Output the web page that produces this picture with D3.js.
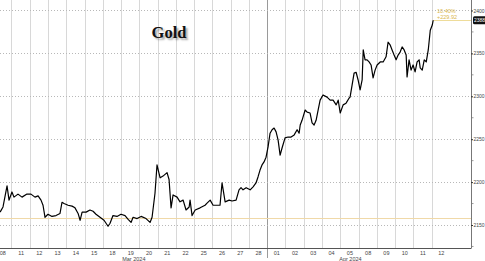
<!DOCTYPE html>
<html>
<head>
<meta charset="utf-8">
<script src="https://cdn.jsdelivr.net/npm/d3@7"></script>
<style>
  html, body { margin: 0; padding: 0; background: #fff; }
  svg { display: block; }
  text { font-family: "Liberation Sans", Arial, sans-serif; }
</style>
</head>
<body>
<svg id="chart" width="485" height="261"></svg>
<script>
// trading days shown on the x axis (Mar 8 -> Apr 12)
var dayLabels = ["08", "11", "12", "13", "14", "15", "18", "19", "20", "21", "22", "25", "26", "27", "28",
                 "01", "02", "03", "04", "05", "08", "09", "10", "11", "12"];
var monthLabels = ["Mar 2024", "Apr 2024"];
var monthFirstDay = [0, 15]; // index in dayLabels

// gold spot, time as fractional trading-day index
var priceTimes = [0.35, 0.51, 0.73, 0.84, 1.00, 1.11, 1.33, 1.55, 1.82, 2.04, 2.26, 2.43, 2.59, 2.70, 2.81, 2.97,
  3.19, 3.41, 3.63, 3.74, 3.85, 4.07, 4.29, 4.45, 4.62, 4.73, 4.84, 5.06, 5.27, 5.44, 5.60, 5.82, 6.04, 6.26,
  6.37, 6.53, 6.75, 6.97, 7.19, 7.36, 7.52, 7.63, 7.85, 8.07, 8.34, 8.56, 8.67, 8.83, 8.94, 9.11, 9.27, 9.49,
  9.60, 9.71, 9.82, 10.04, 10.20, 10.37, 10.53, 10.70, 10.75, 10.86, 11.03, 11.30, 11.57, 11.68, 11.85, 12.01,
  12.23, 12.39, 12.50, 12.67, 12.89, 13.05, 13.27, 13.43, 13.54, 13.65, 13.82, 14.04, 14.20, 14.36, 14.47,
  14.58, 14.69, 14.80, 14.91, 15.02, 15.13, 15.24, 15.35, 15.46, 15.57, 15.68, 15.79, 15.95, 16.12, 16.28,
  16.45, 16.61, 16.72, 16.78, 16.88, 17.05, 17.16, 17.32, 17.43, 17.54, 17.65, 17.76, 17.87, 18.03, 18.25,
  18.42, 18.58, 18.75, 18.86, 18.97, 19.13, 19.29, 19.46, 19.51, 19.62, 19.73, 19.84, 19.95, 20.06, 20.17,
  20.23, 20.33, 20.44, 20.55, 20.66, 20.77, 20.88, 20.99, 21.16, 21.32, 21.48, 21.59, 21.70, 21.81, 21.92,
  22.03, 22.14, 22.25, 22.36, 22.47, 22.58, 22.63, 22.74, 22.85, 22.96, 23.07, 23.18, 23.29, 23.35, 23.46,
  23.57, 23.68, 23.79, 23.90, 24.01, 24.06];
var priceValues = [2165, 2171, 2195.5, 2179, 2188.5, 2182.5, 2186, 2182.5, 2186, 2186, 2182.5, 2184, 2179, 2173, 2159, 2162.5,
  2160, 2161, 2163.5, 2176.5, 2175, 2173, 2172, 2170, 2163.5, 2155.5, 2165, 2165, 2167.5, 2166, 2162.5, 2159, 2155.5, 2148.5,
  2152, 2161, 2160, 2162.5, 2161, 2156.5, 2153, 2159, 2157.5, 2160, 2157.5, 2153, 2159, 2187, 2220, 2205, 2207, 2211,
  2203, 2170, 2185, 2182.5, 2177, 2179, 2167.5, 2171, 2179, 2161, 2167.5, 2170, 2173, 2175.5, 2179, 2173,
  2173, 2173, 2199, 2177, 2179, 2178, 2179, 2191, 2193.5, 2191, 2193.5, 2191, 2194.5, 2199, 2206,
  2214, 2220, 2223.5, 2229, 2241, 2257, 2261, 2263, 2258.5, 2249, 2231.5, 2240, 2251.5, 2252.5, 2252.5,
  2255, 2261, 2257, 2266.5, 2272, 2284, 2281.5, 2280.5, 2269, 2266.5, 2272, 2284, 2295.5, 2301.5, 2299,
  2295.5, 2295.5, 2290, 2295.5, 2280.5, 2290, 2292, 2298, 2299, 2313, 2327, 2328, 2319, 2307.5, 2319,
  2354, 2342.5, 2342.5, 2340, 2336.5, 2321.5, 2330.5, 2336.5, 2340, 2340, 2346, 2363, 2360, 2354, 2348,
  2342.5, 2348, 2351.5, 2357.5, 2354, 2348, 2322.5, 2342.5, 2330.5, 2336.5, 2328.5, 2340, 2342.5, 2333, 2330.5,
  2342.5, 2340, 2354, 2377, 2383, 2388.6];

var yTicks = [2150, 2200, 2250, 2300, 2350, 2400];
var yMinorTicks = [2125, 2175, 2225, 2275, 2325, 2375];
var basePrice = 2158.7;
var lastLabel = "2388.61";
var changePct = "10.40%";
var changeAbs = "+229.92";

var plotRight = 471, plotBottom = 248;
var gold = "#d9b64a";

var svg = d3.select("#chart");

var x = d3.scaleLinear().domain([0, 26.13]).range([-6.3, plotRight]);
var y = d3.scaleLinear().domain([2123.2, 2412.2]).range([plotBottom, 0]);

// vertical day separators
var dayBounds = d3.range(1, dayLabels.length);
svg.append("g").selectAll("line").data(dayBounds).join("line")
  .attr("x1", d => x(d)).attr("x2", d => x(d))
  .attr("y1", 0).attr("y2", d => monthFirstDay.indexOf(d) > 0 ? 258 : plotBottom)
  .attr("stroke", d => monthFirstDay.indexOf(d) > 0 ? "#9a9a9a" : "#d8d8d8")
  .attr("stroke-width", 1)
  .attr("shape-rendering", "crispEdges");

// horizontal dotted gridlines
svg.append("g").selectAll("line").data(yTicks).join("line")
  .attr("x1", 0).attr("x2", plotRight)
  .attr("y1", d => Math.round(y(d)) + 0.5).attr("y2", d => Math.round(y(d)) + 0.5)
  .attr("stroke", "#b8b8b8")
  .attr("stroke-dasharray", "1,2");

// base price line
svg.append("line")
  .attr("x1", 0).attr("x2", plotRight)
  .attr("y1", Math.round(y(basePrice)) + 0.5).attr("y2", Math.round(y(basePrice)) + 0.5)
  .attr("stroke", "#f0d9a8").attr("stroke-width", 1);

// title
svg.append("text")
  .attr("x", 169).attr("y", 38)
  .attr("text-anchor", "middle")
  .style("font-family", "'Liberation Serif', 'Times New Roman', serif")
  .style("font-weight", "bold")
  .style("font-size", "16.5px")
  .style("fill", "#111")
  .style("text-shadow", "2px 2px 2px rgba(0,0,0,0.35)")
  .text("Gold");

// last price guide + change labels
var lastY = y(priceValues[priceValues.length - 1]);
svg.append("line")
  .attr("x1", x(priceTimes[priceTimes.length - 1])).attr("x2", plotRight)
  .attr("y1", Math.round(lastY) + 0.5).attr("y2", Math.round(lastY) + 0.5)
  .attr("stroke", "#eedc9a").attr("stroke-width", 1);

svg.append("text").attr("x", 437).attr("y", 12.5)
  .style("font-size", "5.5px").style("fill", gold).text(changePct);
svg.append("text").attr("x", 437).attr("y", 19)
  .style("font-size", "5.5px").style("fill", gold).text(changeAbs);

// price line
var line = d3.line()
  .x((d, i) => x(priceTimes[i]))
  .y(d => y(d));

svg.append("path")
  .datum(priceValues)
  .attr("d", line)
  .attr("fill", "none")
  .attr("stroke", "#000")
  .attr("stroke-width", 1.2)
  .attr("stroke-linejoin", "round");

// right axis
var yAxis = d3.axisRight(y).tickValues(yTicks).tickSize(2).tickFormat(d3.format("d"));
var ax = svg.append("g").attr("transform", "translate(" + plotRight + ",0)").call(yAxis);
ax.select(".domain").attr("stroke", "#777").attr("d", "M0.5,0V" + plotBottom);
ax.selectAll(".tick line").attr("stroke", "#333");
ax.selectAll(".tick text").attr("x", 2.5)
  .style("font-size", "5px").style("fill", "#444").style("font-family", "'Liberation Sans', Arial, sans-serif");

svg.append("g").selectAll("line").data(yMinorTicks).join("line")
  .attr("x1", plotRight + 1).attr("x2", plotRight + 2.5)
  .attr("y1", d => y(d)).attr("y2", d => y(d))
  .attr("stroke", "#999");

// last price box
svg.append("rect")
  .attr("x", plotRight + 2).attr("y", lastY - 4)
  .attr("width", 14).attr("height", 8).attr("rx", 1.5)
  .attr("fill", "#111");
svg.append("text")
  .attr("x", plotRight + 3).attr("y", lastY + 2)
  .style("font-size", "5px").style("fill", "#fff")
  .text(lastLabel.slice(0, 4));

// bottom axis
svg.append("line")
  .attr("x1", 0).attr("x2", plotRight + 0.5)
  .attr("y1", plotBottom + 0.5).attr("y2", plotBottom + 0.5)
  .attr("stroke", "#555");

svg.append("g").selectAll("text").data(dayLabels).join("text")
  .attr("x", (d, i) => x(i + 0.5))
  .attr("y", 255)
  .attr("text-anchor", "middle")
  .style("font-size", "5.5px").style("fill", "#444")
  .text(d => d);

// month labels centred on the data span of each month
var lastT = priceTimes[priceTimes.length - 1];
svg.append("g").selectAll("text").data(monthLabels).join("text")
  .attr("x", (d, i) => {
    var a = Math.max(0, x(monthFirstDay[i]));
    var b = i + 1 < monthFirstDay.length ? x(monthFirstDay[i + 1]) : x(lastT);
    return (a + b) / 2;
  })
  .attr("y", 260.5)
  .attr("text-anchor", "middle")
  .style("font-size", "5.5px").style("fill", "#444")
  .text(d => d);
</script>
</body>
</html>
